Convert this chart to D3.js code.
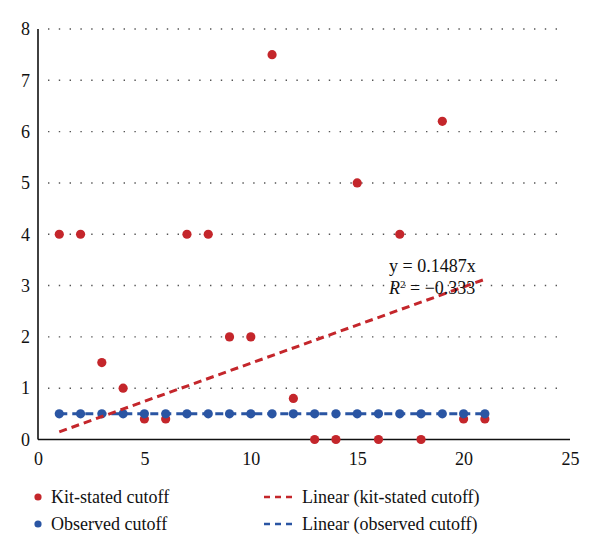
<!doctype html>
<html>
<head>
    <meta charset="utf-8">
    <title>Kit-stated vs observed cutoff</title>
    <style type="text/css">
        body { margin: 0; background: #fff; }
        .grid line { stroke: #555; stroke-width: 1.4; stroke-dasharray: 1.4, 9.4; }
        .axis path, .axis line { stroke: #111; stroke-width: 1.6; }
        .trend { fill: none; stroke-width: 3; stroke-dasharray: 8, 5; }
    </style>
</head>
<body>
<div id="plot"></div>
<script src="https://d3js.org/d3.v7.min.js"></script>
<script>

    // data
    var xValues   = [1, 2, 3, 4, 5, 6, 7, 8, 9, 10, 11, 12, 13, 14, 15, 16, 17, 18, 19, 20, 21];
    var kitStated = [4, 4, 1.5, 1, 0.4, 0.4, 4, 4, 2, 2, 7.5, 0.8, 0, 0, 5, 0, 4, 0, 6.2, 0.4, 0.4];
    var observed  = [0.5, 0.5, 0.5, 0.5, 0.5, 0.5, 0.5, 0.5, 0.5, 0.5, 0.5, 0.5, 0.5, 0.5, 0.5, 0.5, 0.5, 0.5, 0.5, 0.5, 0.5];
    var xTicks = [0, 5, 10, 15, 20, 25];
    var yTicks = [0, 1, 2, 3, 4, 5, 6, 7, 8];
    var kitSlope = 0.1487;        // y = 0.1487x
    var kitR2 = "\u22120.333";
    var observedLevel = 0.5;      // flat linear fit of the observed series

    var red = "#c4262b", blue = "#2a55a3";
    var serif = "'Liberation Serif', 'DejaVu Serif', serif";

    var width = 600, height = 555;

    var xScale = d3.scaleLinear().domain([0, 25]).range([38, 570]);
    var yScale = d3.scaleLinear().domain([0, 8]).range([439.5, 29]);

    var svg = d3.select("#plot").append("svg")
        .attr("width", width)
        .attr("height", height);

    // dotted gridlines (none at 0)
    svg.append("g")
        .attr("class", "grid")
        .selectAll("line")
        .data(yTicks.filter(function (d) { return d > 0; }))
        .enter().append("line")
        .attr("x1", 48)
        .attr("x2", 566)
        .attr("y1", function (d) { return yScale(d); })
        .attr("y2", function (d) { return yScale(d); });

    // axes
    var xAxis = svg.append("g")
        .attr("class", "axis")
        .attr("transform", "translate(0," + yScale(0) + ")")
        .call(d3.axisBottom(xScale).tickValues(xTicks).tickSize(0).tickPadding(13));
    xAxis.select(".domain").attr("d", "M" + xScale(0) + ",0H" + xScale(25));

    var yAxis = svg.append("g")
        .attr("class", "axis")
        .attr("transform", "translate(" + xScale(0) + ",0)")
        .call(d3.axisLeft(yScale).tickValues(yTicks).tickSize(0).tickPadding(8));
    yAxis.select(".domain").attr("d", "M0," + yScale(0) + "V" + yScale(8));

    svg.selectAll(".axis").attr("font-family", null).attr("font-size", null);
    svg.selectAll(".axis text")
        .style("font-family", serif)
        .style("font-size", "18px")
        .attr("fill", "#111");

    // kit-stated points
    svg.append("g").selectAll("circle")
        .data(kitStated)
        .enter().append("circle")
        .attr("cx", function (d, i) { return xScale(xValues[i]); })
        .attr("cy", function (d) { return yScale(d); })
        .attr("r", 4.6)
        .attr("fill", red);

    // observed trend line
    var x0 = xValues[0], x1 = xValues[xValues.length - 1];
    svg.append("line")
        .attr("class", "trend")
        .attr("stroke", blue)
        .attr("x1", xScale(x0)).attr("y1", yScale(observedLevel))
        .attr("x2", xScale(x1)).attr("y2", yScale(observedLevel));

    // observed points
    svg.append("g").selectAll("circle")
        .data(observed)
        .enter().append("circle")
        .attr("cx", function (d, i) { return xScale(xValues[i]); })
        .attr("cy", function (d) { return yScale(d); })
        .attr("r", 4.6)
        .attr("fill", blue);

    // kit-stated trend line
    svg.append("line")
        .attr("class", "trend")
        .attr("stroke", red)
        .attr("x1", xScale(x0)).attr("y1", yScale(kitSlope * x0))
        .attr("x2", xScale(x1)).attr("y2", yScale(kitSlope * x1));

    // equation label
    svg.append("text")
        .attr("x", 389).attr("y", 272)
        .style("font-family", serif)
        .style("font-size", "18px")
        .attr("fill", "#111")
        .text("y = " + kitSlope + "x");
    var r2 = svg.append("text")
        .attr("x", 389).attr("y", 294)
        .style("font-family", serif)
        .style("font-size", "18px")
        .attr("fill", "#111");
    r2.append("tspan").style("font-style", "italic").text("R");
    r2.append("tspan").attr("dy", -6).style("font-size", "11px").text("2");
    r2.append("tspan").attr("dy", 6).text(" = " + kitR2);

    // legend
    var legend = [
        { label: "Kit-stated cutoff", color: red, type: "dot", x: 38, y: 497 },
        { label: "Observed cutoff", color: blue, type: "dot", x: 38, y: 524 },
        { label: "Linear (kit-stated cutoff)", color: red, type: "dash", x: 264, y: 497 },
        { label: "Linear (observed cutoff)", color: blue, type: "dash", x: 264, y: 524 }
    ];

    var lg = svg.append("g").selectAll("g")
        .data(legend)
        .enter().append("g")
        .attr("transform", function (d) { return "translate(" + d.x + "," + d.y + ")"; });

    lg.filter(function (d) { return d.type === "dot"; })
        .append("circle")
        .attr("r", 3.6)
        .attr("fill", function (d) { return d.color; });

    lg.filter(function (d) { return d.type === "dash"; })
        .append("line")
        .attr("x1", 0).attr("x2", 28)
        .attr("stroke", function (d) { return d.color; })
        .attr("stroke-width", 2.5)
        .attr("stroke-dasharray", "6,5");

    lg.append("text")
        .attr("x", function (d) { return d.type === "dot" ? 13 : 38; })
        .attr("y", 6)
        .style("font-family", serif)
        .style("font-size", "18px")
        .attr("fill", "#111")
        .text(function (d) { return d.label; });

</script>
</body>
</html>
